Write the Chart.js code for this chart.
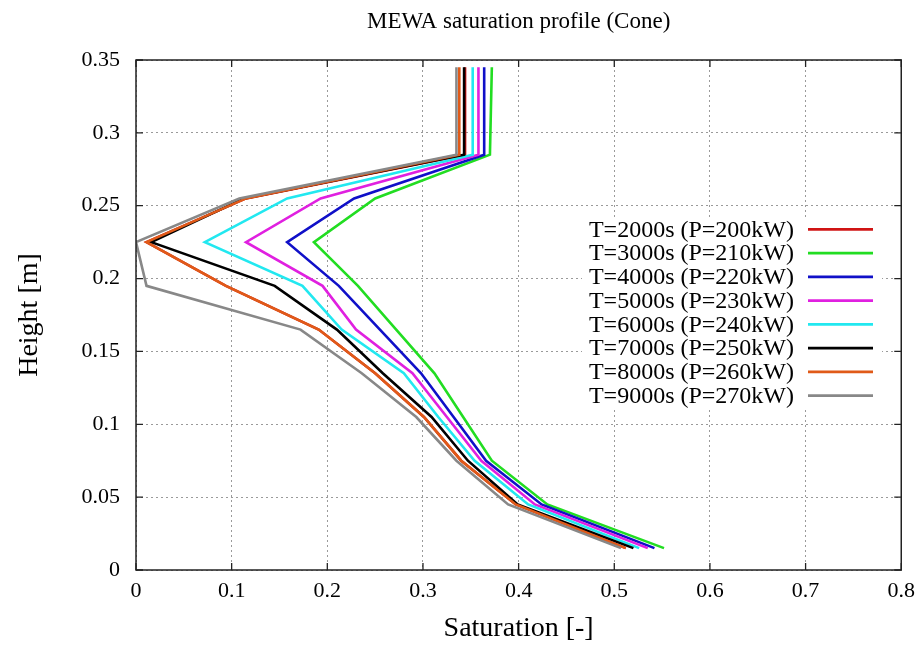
<!DOCTYPE html>
<html>
<head>
<meta charset="utf-8">
<script src="https://cdn.jsdelivr.net/npm/chart.js@4/dist/chart.umd.min.js"></script>
<style>
html,body{margin:0;padding:0;background:#fff;}
#wrap{width:923px;height:648px;}
</style>
</head>
<body>
<div id="wrap"><canvas id="c" width="923" height="648"></canvas></div>
<script>
// Heights (m) at which the saturation was sampled
const heights = [0.015, 0.045, 0.075, 0.105, 0.135, 0.165, 0.195, 0.225, 0.255, 0.285, 0.345];

// Saturation values per time step
const sat2000 = [0.512, 0.397, 0.340, 0.301, 0.250, 0.191, 0.094, 0.011, 0.115, 0.344, 0.344];
const sat3000 = [0.552, 0.430, 0.372, 0.342, 0.312, 0.272, 0.232, 0.186, 0.250, 0.370, 0.372];
const sat4000 = [0.542, 0.424, 0.366, 0.332, 0.298, 0.255, 0.212, 0.158, 0.228, 0.364, 0.364];
const sat5000 = [0.535, 0.417, 0.361, 0.325, 0.289, 0.230, 0.195, 0.115, 0.193, 0.358, 0.358];
const sat6000 = [0.526, 0.410, 0.354, 0.316, 0.280, 0.215, 0.174, 0.072, 0.158, 0.352, 0.352];
const sat7000 = [0.520, 0.399, 0.347, 0.309, 0.258, 0.210, 0.145, 0.016, 0.113, 0.343, 0.343];
const sat8000 = [0.512, 0.397, 0.340, 0.301, 0.250, 0.191, 0.094, 0.011, 0.115, 0.338, 0.338];
const sat9000 = [0.507, 0.389, 0.335, 0.293, 0.236, 0.172, 0.011, 0.000, 0.108, 0.335, 0.335];

const seriesLabels = [
  'T=2000s (P=200kW)', 'T=3000s (P=210kW)', 'T=4000s (P=220kW)', 'T=5000s (P=230kW)',
  'T=6000s (P=240kW)', 'T=7000s (P=250kW)', 'T=8000s (P=260kW)', 'T=9000s (P=270kW)'
];
const seriesValues = [sat2000, sat3000, sat4000, sat5000, sat6000, sat7000, sat8000, sat9000];
const seriesColors = ['#d01414', '#22dd22', '#1010c8', '#e020e0', '#22e8f0', '#000000', '#e05a18', '#888888'];

const xTickLabels = ['0', '0.1', '0.2', '0.3', '0.4', '0.5', '0.6', '0.7', '0.8'];
const yTickLabels = ['0', '0.05', '0.1', '0.15', '0.2', '0.25', '0.3', '0.35'];

const FONT = "'Liberation Serif', 'DejaVu Serif', serif";

const datasets = seriesValues.map((vals, i) => ({
  label: seriesLabels[i],
  data: vals.map((v, k) => ({x: v, y: heights[k]})),
  borderColor: seriesColors[i],
  backgroundColor: seriesColors[i],
  borderWidth: 2.6,
  pointRadius: 0,
  tension: 0,
  fill: false,
  order: seriesValues.length - 1 - i
}));

function labelFor(list, value) {
  for (const s of list) { if (Math.abs(Number(s) - value) < 1e-6) return s; }
  return '';
}

const framePlugin = {
  id: 'frame',
  afterDatasetsDraw(chart) {
    const ctx = chart.ctx;
    // legend box (gnuplot style: text right-aligned, sample line to the right)
    const rowY0 = 229.3, rowStep = 23.77;
    ctx.save();
    ctx.fillStyle = '#ffffff';
    ctx.fillRect(582, 217, 300, 191);
    ctx.font = '24px ' + FONT;
    ctx.textAlign = 'right';
    ctx.textBaseline = 'middle';
    chart.data.datasets.forEach((ds, i) => {
      const y = rowY0 + i * rowStep;
      ctx.fillStyle = '#000';
      ctx.fillText(ds.label, 794, y + 1);
      ctx.strokeStyle = ds.borderColor;
      ctx.lineWidth = 2.8;
      ctx.beginPath();
      ctx.moveTo(808, y);
      ctx.lineTo(873, y);
      ctx.stroke();
    });
    ctx.restore();
  },
  afterDraw(chart) {
    const ctx = chart.ctx;
    const a = chart.chartArea;
    const xs = chart.scales.x, ys = chart.scales.y;
    ctx.save();
    ctx.strokeStyle = '#222';
    ctx.lineWidth = 1.5;
    ctx.strokeRect(a.left, a.top, a.right - a.left, a.bottom - a.top);
    ctx.lineWidth = 1.3;
    const tl = 7;
    ctx.beginPath();
    xs.ticks.forEach(t => {
      const px = xs.getPixelForValue(t.value);
      ctx.moveTo(px, a.bottom); ctx.lineTo(px, a.bottom - tl);
      ctx.moveTo(px, a.top); ctx.lineTo(px, a.top + tl);
    });
    ys.ticks.forEach(t => {
      const py = ys.getPixelForValue(t.value);
      ctx.moveTo(a.left, py); ctx.lineTo(a.left + tl, py);
      ctx.moveTo(a.right, py); ctx.lineTo(a.right - tl, py);
    });
    ctx.stroke();
    ctx.restore();
  }
};

new Chart(document.getElementById('c'), {
  type: 'line',
  data: { datasets },
  options: {
    responsive: false,
    animation: false,
    events: [],
    layout: { padding: { left: 0, right: 18, top: 0, bottom: 0 } },
    plugins: {
      legend: { display: false },
      tooltip: { enabled: false },
      title: {
        display: true,
        fullSize: false,
        text: 'MEWA saturation profile (Cone)',
        color: '#000',
        font: { family: FONT, size: 23, weight: 'normal' },
        padding: { top: 8, bottom: 24.4 }
      }
    },
    scales: {
      x: {
        type: 'linear',
        min: 0, max: 0.8,
        ticks: {
          stepSize: 0.1,
          color: '#000',
          padding: 8,
          maxRotation: 0,
          font: { family: FONT, size: 22 },
          callback: v => labelFor(xTickLabels, v)
        },
        grid: { color: '#9a9a9a', lineWidth: 1, drawTicks: false },
        border: { display: false, dash: [2, 3] },
        title: {
          display: true,
          text: 'Saturation [-]',
          color: '#000',
          font: { family: FONT, size: 28 },
          padding: { top: 0, bottom: 3 }
        },
        afterFit(scale) { scale.height = 78; }
      },
      y: {
        type: 'linear',
        min: 0, max: 0.35,
        ticks: {
          stepSize: 0.05,
          color: '#000',
          padding: 16,
          font: { family: FONT, size: 22 },
          callback: v => labelFor(yTickLabels, v)
        },
        grid: { color: '#9a9a9a', lineWidth: 1, drawTicks: false },
        border: { display: false, dash: [2, 3] },
        title: {
          display: true,
          text: 'Height [m]',
          color: '#000',
          font: { family: FONT, size: 28 },
          padding: { top: 13, bottom: 0 }
        },
        afterFit(scale) { scale.width = 136; }
      }
    }
  },
  plugins: [framePlugin]
});
</script>
</body>
</html>
